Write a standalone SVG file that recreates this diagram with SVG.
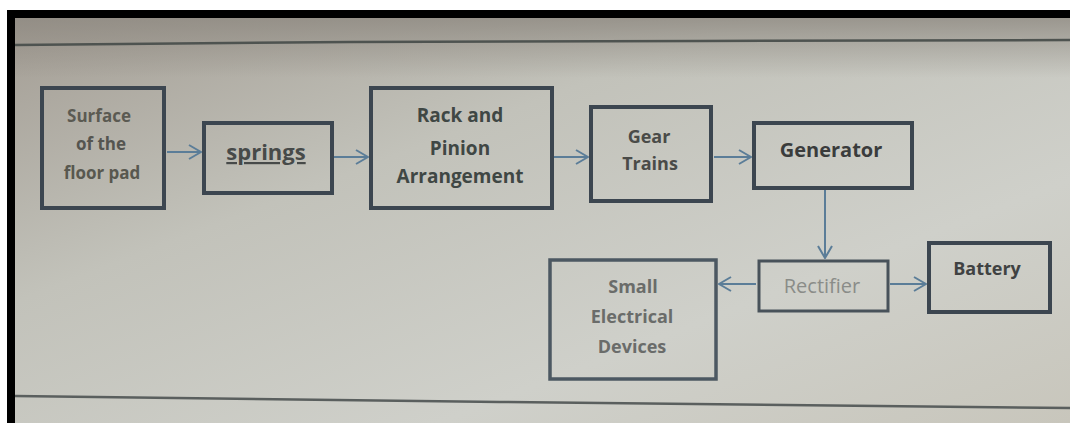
<svg xmlns="http://www.w3.org/2000/svg" width="1070" height="423" viewBox="0 0 1070 423">
  <defs>
    <linearGradient id="bg" x1="0" y1="0" x2="1" y2="1">
      <stop offset="0" stop-color="#a39d94"/>
      <stop offset="0.35" stop-color="#c2c2ba"/>
      <stop offset="0.7" stop-color="#cfd0ca"/>
      <stop offset="1" stop-color="#c8c6bc"/>
    </linearGradient>
    <linearGradient id="topband" x1="0" y1="0" x2="0" y2="1">
      <stop offset="0" stop-color="#8f8a82" stop-opacity="0.8"/>
      <stop offset="1" stop-color="#8f8a82" stop-opacity="0"/>
    </linearGradient>
    <marker id="arr" viewBox="0 0 14 16" refX="13" refY="8" markerWidth="14" markerHeight="16" markerUnits="userSpaceOnUse" orient="auto">
      <path d="M1,1 L13,8 L1,15" fill="none" stroke="#5b7d98" stroke-width="2"/>
    </marker>
  </defs>
  <style>
    .box { fill: none; stroke: #3c4650; stroke-width: 4; }
    .lbl { font-family: "Open Sans", "Liberation Sans", sans-serif; font-weight: bold; text-anchor: middle; }
    .conn { stroke: #5b7d98; stroke-width: 2; fill: none; marker-end: url(#arr); }
  </style>
  <rect x="0" y="0" width="1070" height="423" fill="#ffffff"/>
  <rect x="7" y="10" width="1063" height="413" fill="#000000"/>
  <rect x="15" y="18" width="1055" height="405" fill="url(#bg)"/>
  <rect x="15" y="18" width="1055" height="60" fill="url(#topband)"/>
  <path d="M15,45 L350,42 L700,41 L1070,40" stroke="#4e5350" stroke-width="2.5" fill="none"/>
  <path d="M15,396 L500,402 L1070,408" stroke="#5a5f5e" stroke-width="2.5" fill="none"/>

  <g id="connectors">
    <line class="conn" x1="167" y1="152" x2="201" y2="152"/>
    <line class="conn" x1="334" y1="157" x2="368" y2="157"/>
    <line class="conn" x1="554" y1="157" x2="588" y2="157"/>
    <line class="conn" x1="714" y1="157" x2="751" y2="157"/>
    <line class="conn" x1="825" y1="190" x2="825" y2="258"/>
    <line class="conn" x1="756" y1="284" x2="719" y2="284"/>
    <line class="conn" x1="890" y1="284" x2="926" y2="284"/>
  </g>

  <g id="surface">
    <rect class="box" x="42" y="88" width="122" height="120"/>
    <text class="lbl" x="99" y="122" style="font-size:17px;fill:#5b5a52">Surface</text>
    <text class="lbl" x="101" y="150" style="font-size:17px;fill:#555550">of the</text>
    <text class="lbl" x="102" y="179" style="font-size:17px;fill:#58584f">floor pad</text>
  </g>
  <g id="springs">
    <rect class="box" x="204" y="123" width="128" height="70"/>
    <text class="lbl" x="266" y="160" style="font-size:22px;fill:#474a49;text-decoration:underline">springs</text>
  </g>
  <g id="rack">
    <rect class="box" x="371" y="88" width="181" height="120"/>
    <text class="lbl" x="460" y="122" style="font-size:19px;fill:#3f4744">Rack and</text>
    <text class="lbl" x="460" y="155" style="font-size:19px;fill:#3f4744">Pinion</text>
    <text class="lbl" x="460" y="183" style="font-size:19px;fill:#3f4744">Arrangement</text>
  </g>
  <g id="gear">
    <rect class="box" x="591" y="107" width="120" height="94"/>
    <text class="lbl" x="649" y="143" style="font-size:18px;fill:#4a4b48">Gear</text>
    <text class="lbl" x="650" y="170" style="font-size:18px;fill:#4a4b48">Trains</text>
  </g>
  <g id="generator">
    <rect class="box" x="754" y="123" width="158" height="65"/>
    <text class="lbl" x="831" y="157" style="font-size:20px;fill:#3a3c3c">Generator</text>
  </g>
  <g id="rectifier">
    <rect class="box" x="759" y="261" width="129" height="50" style="stroke:#48525a;stroke-width:3"/>
    <text class="lbl" x="822" y="293" style="font-size:20px;font-weight:normal;fill:#8a8c88">Rectifier</text>
  </g>
  <g id="battery">
    <rect class="box" x="929" y="243" width="121" height="69"/>
    <text class="lbl" x="987" y="275" style="font-size:18px;fill:#404242">Battery</text>
  </g>
  <g id="devices">
    <rect class="box" x="550" y="260" width="166" height="119" style="stroke:#4c5862;stroke-width:3.5"/>
    <text class="lbl" x="633" y="293" style="font-size:18px;fill:#6a6c6a">Small</text>
    <text class="lbl" x="632" y="323" style="font-size:18px;fill:#6a6c6a">Electrical</text>
    <text class="lbl" x="632" y="353" style="font-size:18px;fill:#6a6c6a">Devices</text>
  </g>
</svg>
